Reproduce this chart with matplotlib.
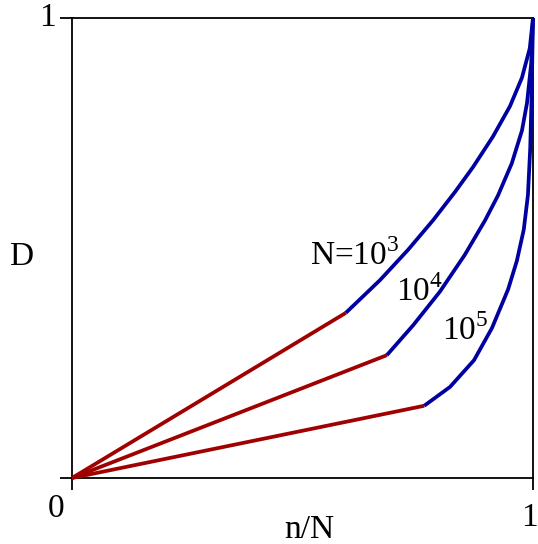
import matplotlib
matplotlib.use("Agg")
import matplotlib.pyplot as plt

plt.rcParams['font.family'] = ['Liberation Serif', 'DejaVu Serif']
plt.rcParams['mathtext.fontset'] = 'custom'
plt.rcParams['mathtext.rm'] = 'Liberation Serif'

# --- data ---
labels = ["N=10$^{3}$", "10$^{4}$", "10$^{5}$"]

# end points of the straight (red) parts, which all start at the origin
break_x = [0.594, 0.683, 0.764]
break_y = [0.359, 0.267, 0.157]

# curved (blue) parts, from the break point up to (1, 1)
curve_x = [
    [0.594, 0.668, 0.729, 0.783, 0.831, 0.870, 0.913, 0.950, 0.976, 0.993, 1.0],
    [0.683, 0.740, 0.798, 0.852, 0.896, 0.924, 0.954, 0.976, 0.987, 0.996, 1.0],
    [0.764, 0.820, 0.872, 0.911, 0.946, 0.965, 0.980, 0.989, 0.994, 0.997, 1.0],
]
curve_y = [
    [0.359, 0.430, 0.496, 0.560, 0.622, 0.676, 0.742, 0.808, 0.870, 0.934, 1.0],
    [0.267, 0.332, 0.405, 0.485, 0.560, 0.614, 0.684, 0.755, 0.815, 0.900, 1.0],
    [0.157, 0.198, 0.256, 0.326, 0.410, 0.472, 0.540, 0.615, 0.717, 0.830, 1.0],
]

RED = '#a00000'
BLUE = '#0000a0'
FS = 24

fig = plt.figure(figsize=(5.38, 5.44), dpi=100)
ax = fig.add_axes([0.1338, 0.1213, 0.8569, 0.8457])

for bx, by, cx, cy in zip(break_x, break_y, curve_x, curve_y):
    ax.plot([0, bx], [0, by], color=RED, lw=2.7, solid_capstyle='butt',
            clip_on=False, zorder=3)
    ax.plot(cx, cy, color=BLUE, lw=2.7, solid_capstyle='butt',
            solid_joinstyle='round', clip_on=False, zorder=3)

# curve labels
label_pos = [(0.516, 0.463), (0.703, 0.385), (0.803, 0.300)]
for txt, (lx, ly) in zip(labels, label_pos):
    ax.text(lx, ly, txt, fontsize=FS, va='baseline', ha='left')

ax.set_xlim(0, 1)
ax.set_ylim(0, 1)
ax.set_xticks([0, 1])
ax.set_yticks([0, 1])
ax.set_xticklabels([])
ax.set_yticklabels([])
ax.tick_params(direction='out', length=8.5, width=1.3, color='black')
for s in ax.spines.values():
    s.set_linewidth(1.3)

# axis texts placed where the reference has them
fig.text(56.5 / 538, 1 - 509 / 544, "0", fontsize=FS, ha='center', va='center')
fig.text(537.5 / 538, 1 - 518 / 544, "1", fontsize=FS, ha='right', va='center')
fig.text(47 / 538, 1 - 18 / 544, "1", fontsize=FS, ha='center', va='center')
fig.text(21 / 538, 1 - 257 / 544, "D", fontsize=FS, ha='center', va='center')
fig.text(309 / 538, 1 - 530 / 544, "n/N", fontsize=FS, ha='center', va='center')

fig.savefig("out.png", dpi=100)
